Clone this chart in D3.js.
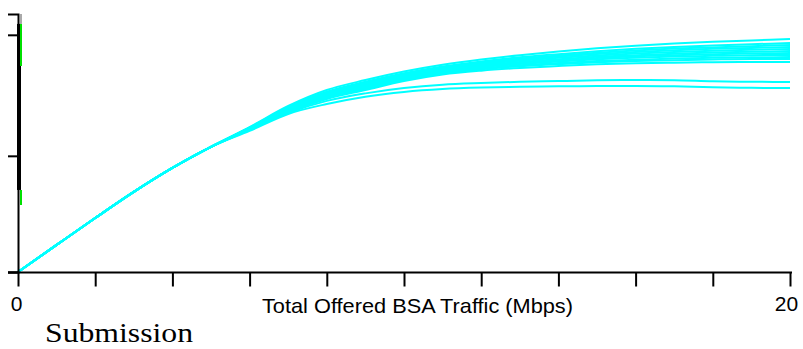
<!DOCTYPE html>
<html>
<head>
<meta charset="utf-8">
<script src="https://cdn.jsdelivr.net/npm/d3@7"></script>
<style>
  html, body { margin: 0; padding: 0; background: #fff; }
  svg { display: block; }
</style>
</head>
<body>
<svg id="chart" width="803" height="349"></svg>
<script>
// ---------------- DATA ----------------
const xValues = [0, 1, 2, 3, 4, 5, 6, 7, 8, 9, 10, 11, 12, 13, 14, 15, 16, 17, 18, 19, 20];
const xTicks = [0, 2, 4, 6, 8, 10, 12, 14, 16, 18, 20];
const xTickLabels = { 0: "0", 20: "20" };
const xAxisTitle = "Total Offered BSA Traffic (Mbps)";
const yTicks = [0, 4.8, 9.8];
const footerText = "Submission";

// shared initial ramp (x = 0..5), identical for all runs
const ramp = [0, 1.12, 2.23, 3.31, 4.30, 5.17];

// throughput per run, x = 6..20
const run01 = [5.99, 6.86, 7.52, 7.93, 8.28, 8.56, 8.78, 8.96, 9.11, 9.24, 9.35, 9.44, 9.51, 9.57, 9.63];
const run02 = [5.97, 6.81, 7.45, 7.86, 8.21, 8.49, 8.70, 8.87, 9.00, 9.12, 9.22, 9.30, 9.36, 9.41, 9.46];
const run03 = [5.96, 6.79, 7.42, 7.82, 8.17, 8.45, 8.66, 8.82, 8.95, 9.06, 9.15, 9.23, 9.28, 9.33, 9.38];
const run04 = [5.95, 6.77, 7.39, 7.79, 8.14, 8.42, 8.62, 8.77, 8.90, 9.01, 9.09, 9.16, 9.22, 9.26, 9.30];
const run05 = [5.94, 6.75, 7.36, 7.75, 8.11, 8.38, 8.58, 8.73, 8.85, 8.95, 9.03, 9.09, 9.14, 9.18, 9.21];
const run06 = [5.93, 6.73, 7.32, 7.71, 8.07, 8.35, 8.54, 8.68, 8.79, 8.89, 8.96, 9.02, 9.07, 9.10, 9.13];
const run07 = [5.92, 6.71, 7.29, 7.68, 8.04, 8.32, 8.50, 8.64, 8.74, 8.84, 8.91, 8.96, 9.00, 9.03, 9.05];
const run08 = [5.91, 6.69, 7.26, 7.65, 8.01, 8.28, 8.46, 8.59, 8.70, 8.79, 8.85, 8.90, 8.93, 8.96, 8.97];
const run09 = [5.90, 6.66, 7.23, 7.61, 7.97, 8.24, 8.42, 8.54, 8.64, 8.72, 8.77, 8.82, 8.85, 8.87, 8.88];
const run10 = [5.89, 6.64, 7.20, 7.57, 7.94, 8.21, 8.38, 8.50, 8.59, 8.67, 8.72, 8.75, 8.78, 8.80, 8.80];
const run11 = [5.87, 6.61, 7.15, 7.52, 7.89, 8.16, 8.32, 8.43, 8.51, 8.58, 8.62, 8.65, 8.67, 8.68, 8.68];
const run12 = [5.87, 6.57, 7.07, 7.38, 7.60, 7.74, 7.81, 7.86, 7.89, 7.92, 7.93, 7.92, 7.88, 7.86, 7.85];
const run13 = [5.83, 6.53, 6.94, 7.24, 7.44, 7.56, 7.62, 7.65, 7.67, 7.69, 7.69, 7.67, 7.63, 7.61, 7.60];

const runs = [run01, run02, run03, run04, run05, run06, run07, run08, run09, run10, run11, run12, run13];

// marks drawn along the y axis (in y units)
const blackBand = [3.39, 10.25];
const greenBands = [[8.51, 10.25], [2.77, 3.39]];

// ---------------- CHART ----------------
const svg = d3.select("#chart");
const x = d3.scaleLinear().domain([0, 20]).range([18, 790]);
const y = d3.scaleLinear().domain([0, 10.66]).range([272, 14]);

const line = d3.line()
  .curve(d3.curveMonotoneX)
  .x(d => x(d[0]))
  .y(d => y(d[1]));

const gLines = svg.append("g");
runs.forEach(r => {
  const vals = ramp.concat(r);
  const pts = xValues.map((xv, i) => [xv, vals[i]]);
  gLines.append("path")
    .attr("d", line(pts))
    .attr("fill", "none")
    .attr("stroke", "#00ffff")
    .attr("stroke-width", 2);
});

// x axis
const xAxis = d3.axisBottom(x)
  .tickValues(xTicks)
  .tickSize(14)
  .tickPadding(10)
  .tickFormat(d => xTickLabels[d] || "");
const gx = svg.append("g").attr("transform", "translate(0,272.5)").call(xAxis);
gx.select(".domain").remove();
gx.selectAll(".tick line").attr("stroke", "#000").attr("stroke-width", 2);
gx.selectAll(".tick text")
  .attr("font-family", "Liberation Sans, Arial, sans-serif")
  .attr("font-size", 21)
  .attr("fill", "#000")
  .attr("dx", d => d === 20 ? -4 : (d === 0 ? -2 : 0));
svg.append("line")
  .attr("x1", 8).attr("x2", 792)
  .attr("y1", 272.5).attr("y2", 272.5)
  .attr("stroke", "#000").attr("stroke-width", 2);

// x axis title
svg.append("text")
  .attr("x", 262).attr("y", 313)
  .attr("font-family", "Liberation Sans, Arial, sans-serif")
  .attr("font-size", 21)
  .attr("textLength", 311)
  .attr("lengthAdjust", "spacingAndGlyphs")
  .attr("fill", "#000")
  .text(xAxisTitle);

// y axis
const yAxis = d3.axisLeft(y).tickValues(yTicks).tickSize(10).tickFormat("");
const gy = svg.append("g").attr("transform", "translate(18,0)").call(yAxis);
gy.select(".domain").attr("stroke", "#000").attr("stroke-width", 2);
gy.selectAll(".tick line").attr("stroke", "#000").attr("stroke-width", 2);

// marks along the y axis
svg.append("line")
  .attr("x1", 19).attr("x2", 19)
  .attr("y1", y(blackBand[0])).attr("y2", y(blackBand[1]))
  .attr("stroke", "#000").attr("stroke-width", 4);
svg.append("line")
  .attr("x1", 21).attr("x2", 21)
  .attr("y1", y(10.66)).attr("y2", y(blackBand[1]))
  .attr("stroke", "#555").attr("stroke-width", 1);
greenBands.forEach(b => {
  svg.append("line")
    .attr("x1", 21).attr("x2", 21)
    .attr("y1", y(b[0])).attr("y2", y(b[1]))
    .attr("stroke", "#00e000").attr("stroke-width", 2);
});

// footer
svg.append("text")
  .attr("x", 45).attr("y", 342)
  .attr("font-family", "Liberation Serif, Times New Roman, serif")
  .attr("font-size", 28)
  .attr("textLength", 148)
  .attr("lengthAdjust", "spacingAndGlyphs")
  .attr("fill", "#000")
  .text(footerText);
</script>
</body>
</html>
